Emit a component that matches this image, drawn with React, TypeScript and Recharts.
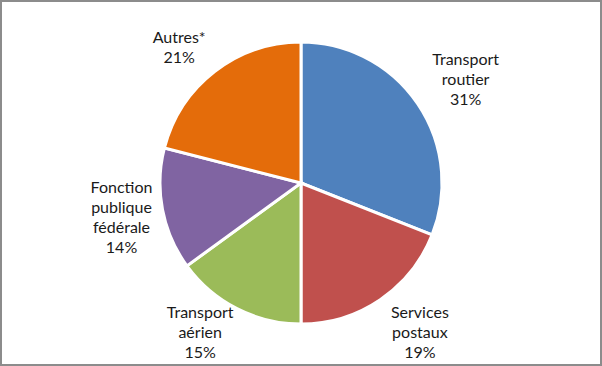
import React from 'react';
import { PieChart, Pie, Cell } from 'recharts';

const categories = ['Transport routier', 'Services postaux', 'Transport aérien', 'Fonction publique fédérale', 'Autres*'];
const labelLines = [
  ['Transport', 'routier'],
  ['Services', 'postaux'],
  ['Transport', 'aérien'],
  ['Fonction', 'publique', 'fédérale'],
  ['Autres*'],
];
const shares = [31, 19, 15, 14, 21];

const COLORS = ['#4F81BD', '#C0504D', '#9BBB59', '#8064A2', '#E46C0A'];

const data = categories.map((name, i) => ({ name, value: shares[i], lines: labelLines[i] }));

const W = 602;
const H = 366;
const FONT_SIZE = 16;
const FONT = 'Lato, "Open Sans", sans-serif';
const LINE_H = 20;
const GAP = 0;
const SWEEP = 20;
const EDGE = 5;
const RAD = Math.PI / 180;

let ctx: CanvasRenderingContext2D | null = null;
function measure(s: string) {
  if (!ctx) ctx = document.createElement('canvas').getContext('2d');
  if (!ctx) return s.length * 8;
  ctx.font = `${FONT_SIZE}px Lato`;
  return ctx.measureText(s).width;
}

// rough take on Excel's "outside end" labels: box pushed out along the slice middle
// (by its extent in that direction), nudged sideways, kept inside the chart area
function renderLabel(props: any) {
  const { cx, cy, midAngle, outerRadius, index } = props;
  const lines = [...data[index].lines, `${shares[index]}%`];
  const w = Math.max(...lines.map(measure));
  const h = lines.length * LINE_H;
  const ux = Math.cos(-midAngle * RAD);
  const uy = Math.sin(-midAngle * RAD);
  const d = outerRadius + GAP + (w / 2) * Math.abs(ux) + (h / 2) * Math.abs(uy);
  const x = cx + d * ux + Math.sign(ux) * SWEEP * Math.abs(uy);
  let y = cy + d * uy;
  y = Math.min(Math.max(y, EDGE + h / 2), H - EDGE - h / 2);
  const top = y - ((lines.length - 1) * LINE_H) / 2;
  return (
    <g key={`lbl-${index}`}>
      {lines.map((t, j) => (
        <text
          key={j}
          x={x}
          y={top + j * LINE_H}
          textAnchor="middle"
          dominantBaseline="central"
          fill="#1a1a1a"
          fontSize={FONT_SIZE}
          fontFamily={FONT}
        >
          {t}
        </text>
      ))}
    </g>
  );
}

export default function App() {
  return (
    <div style={{ position: 'absolute', left: 0, top: 0, width: W, height: H, background: '#fff' }}>
      <PieChart width={W} height={H} margin={{ top: 0, right: 0, bottom: 0, left: 0 }}>
        <Pie
          data={data}
          dataKey="value"
          nameKey="name"
          cx={301}
          cy={183}
          outerRadius={141}
          startAngle={90}
          endAngle={-270}
          stroke="#fff"
          strokeWidth={3}
          label={renderLabel}
          labelLine={false}
          isAnimationActive={false}
        >
          {data.map((d, i) => (
            <Cell key={d.name} fill={COLORS[i]} />
          ))}
        </Pie>
      </PieChart>
      <div
        style={{
          position: 'absolute',
          left: 0,
          top: 0,
          width: W,
          height: H,
          boxSizing: 'border-box',
          border: '2px solid #8c8c8c',
          pointerEvents: 'none',
        }}
      />
    </div>
  );
}
